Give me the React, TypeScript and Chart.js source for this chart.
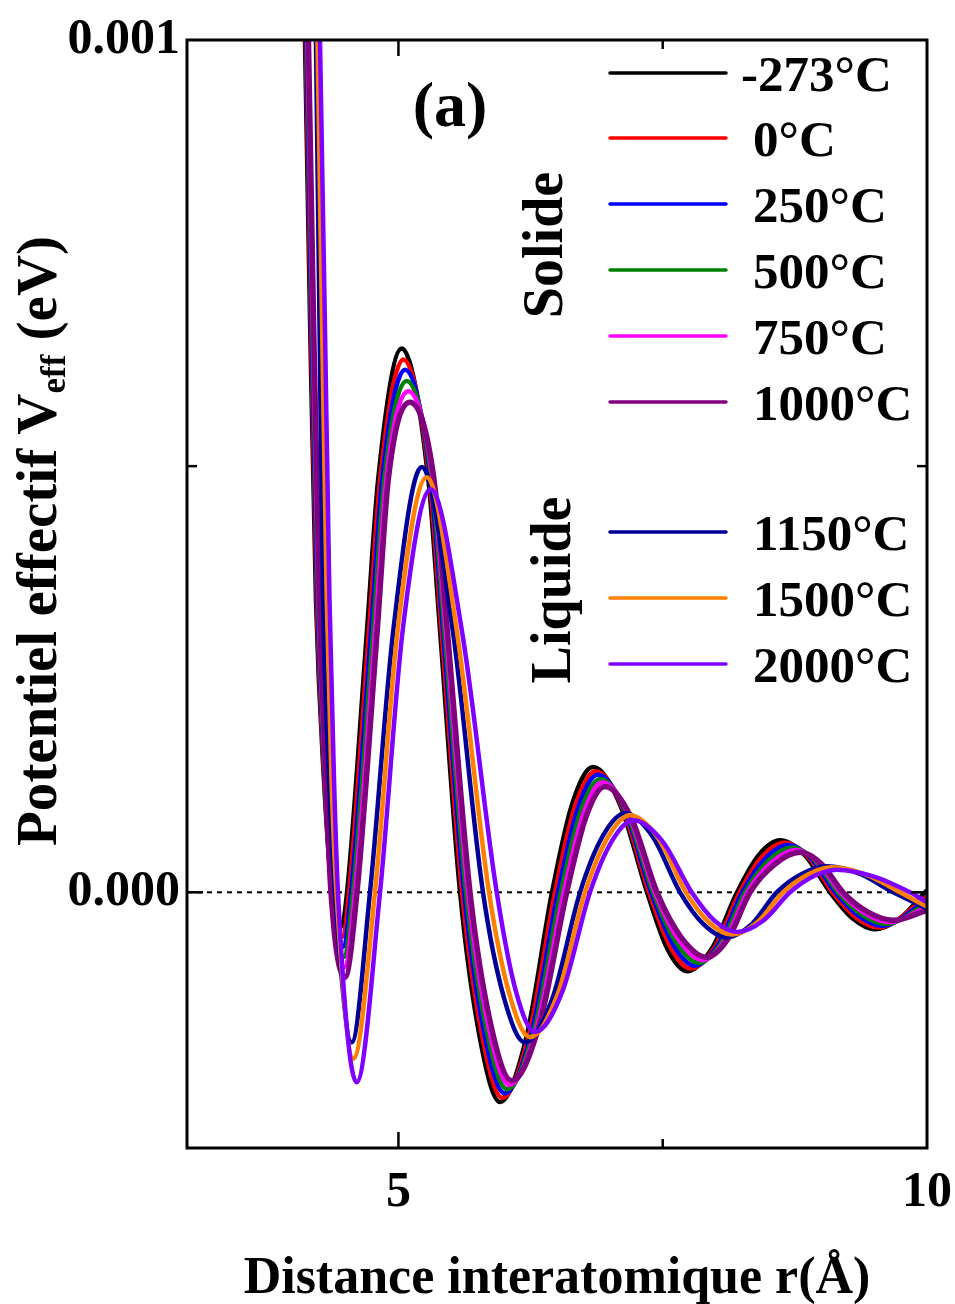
import React, { useEffect, useRef } from "react";
import { Chart, registerables } from "chart.js";

Chart.register(...registerables);

// Legend labels and colours
const temps = ["-273°C", "0°C", "250°C", "500°C", "750°C", "1000°C", "1150°C", "1500°C", "2000°C"];
const colors = ["#000000", "#ff0000", "#0000ff", "#008000", "#ff00ff", "#800080", "#000099", "#ff8000", "#8000ff"];
const xTicks = [5, 10];
const yTicks = [0, 0.001];

// r (Å) and Veff (eV)
const r_m273 = [4.083, 4.116, 4.164, 4.220, 4.296, 4.372, 4.462, 4.514, 4.703, 4.808, 5.031, 5.283, 5.393, 5.583, 5.772, 5.961, 6.207, 6.453, 6.642, 6.841, 7.096, 7.352, 7.541, 7.730, 7.966, 8.203, 8.406, 8.610, 8.846, 9.083, 9.295, 9.508, 9.745, 9.981, 10.0];
const v_m273 = [0.00120, 0.00100, 0.000671, 0.000343, 0.000131, 0, -0.0000399, 0, 0.000308, 0.000484, 0.000638, 0.000484, 0.000308, 0, -0.000172, -0.000246, -0.000172, 0, 0.000103, 0.000147, 0.000103, 0, -0.0000657, -0.0000927, -0.0000657, 0, 0.0000434, 0.0000610, 0.0000434, 0, -0.0000305, -0.0000434, -0.0000305, 0, 0.0000025];

const r_0 = [4.091, 4.123, 4.171, 4.227, 4.300, 4.370, 4.469, 4.533, 4.722, 4.827, 5.047, 5.294, 5.407, 5.602, 5.793, 5.983, 6.232, 6.481, 6.668, 6.864, 7.117, 7.371, 7.569, 7.767, 7.997, 8.228, 8.437, 8.648, 8.877, 9.108, 9.324, 9.542, 10.0];
const v_0 = [0.00120, 0.00100, 0.000671, 0.000343, 0.000131, 0, -0.0000519, 0, 0.000308, 0.000484, 0.000625, 0.000484, 0.000308, 0, -0.000169, -0.000241, -0.000169, 0, 0.000100, 0.000142, 0.000100, 0, -0.0000634, -0.0000894, -0.0000634, 0, 0.0000413, 0.0000582, 0.0000413, 0, -0.0000291, -0.0000413, -0.0000055];

const r_250 = [4.098, 4.129, 4.177, 4.233, 4.304, 4.368, 4.475, 4.552, 4.742, 4.846, 5.063, 5.305, 5.421, 5.621, 5.813, 6.005, 6.257, 6.509, 6.694, 6.886, 7.138, 7.390, 7.597, 7.804, 8.028, 8.252, 8.468, 8.686, 8.908, 9.132, 9.354, 9.576, 10.0];
const v_250 = [0.00120, 0.00100, 0.000671, 0.000343, 0.000131, 0, -0.0000639, 0, 0.000308, 0.000484, 0.000613, 0.000484, 0.000308, 0, -0.000166, -0.000236, -0.000166, 0, 0.000097, 0.000138, 0.000097, 0, -0.0000610, -0.0000861, -0.0000610, 0, 0.0000393, 0.0000554, 0.0000393, 0, -0.0000276, -0.0000392, -0.0000094];

const r_500 = [4.106, 4.136, 4.184, 4.240, 4.307, 4.366, 4.482, 4.570, 4.761, 4.866, 5.078, 5.315, 5.434, 5.639, 5.834, 6.028, 6.282, 6.536, 6.721, 6.909, 7.158, 7.408, 7.626, 7.842, 8.059, 8.277, 8.500, 8.723, 8.940, 9.157, 9.383, 9.611, 10.0];
const v_500 = [0.00120, 0.00100, 0.000671, 0.000343, 0.000131, 0, -0.0000758, 0, 0.000308, 0.000484, 0.000600, 0.000484, 0.000308, 0, -0.000162, -0.000231, -0.000162, 0, 0.000094, 0.000133, 0.000094, 0, -0.0000587, -0.0000829, -0.0000587, 0, 0.0000372, 0.0000525, 0.0000372, 0, -0.0000262, -0.0000371, -0.0000130];

const r_750 = [4.113, 4.142, 4.190, 4.246, 4.311, 4.364, 4.488, 4.589, 4.781, 4.885, 5.094, 5.326, 5.448, 5.658, 5.854, 6.050, 6.307, 6.564, 6.747, 6.931, 7.179, 7.427, 7.654, 7.879, 8.090, 8.301, 8.531, 8.761, 8.971, 9.181, 9.413, 9.645, 10.0];
const v_750 = [0.00120, 0.00100, 0.000671, 0.000343, 0.000131, 0, -0.0000878, 0, 0.000308, 0.000484, 0.000588, 0.000484, 0.000308, 0, -0.000159, -0.000226, -0.000159, 0, 0.000091, 0.000129, 0.000091, 0, -0.0000563, -0.0000796, -0.0000563, 0, 0.0000352, 0.0000497, 0.0000352, 0, -0.0000247, -0.0000350, -0.0000170];

const r_1000 = [4.121, 4.149, 4.197, 4.253, 4.315, 4.362, 4.495, 4.608, 4.800, 4.904, 5.110, 5.337, 5.462, 5.677, 5.875, 6.072, 6.332, 6.592, 6.773, 6.954, 7.200, 7.446, 7.682, 7.916, 8.121, 8.326, 8.562, 8.799, 9.002, 9.206, 9.442, 9.679, 10.0];
const v_1000 = [0.00120, 0.00100, 0.000671, 0.000343, 0.000131, 0, -0.0000998, 0, 0.000308, 0.000484, 0.000575, 0.000484, 0.000308, 0, -0.000156, -0.000221, -0.000156, 0, 0.0000880, 0.000124, 0.0000880, 0, -0.0000540, -0.0000763, -0.0000540, 0, 0.0000331, 0.0000469, 0.0000331, 0, -0.0000233, -0.0000329, -0.0000211];

const r_1150 = [4.200, 4.220, 4.253, 4.287, 4.343, 4.400, 4.558, 4.731, 4.952, 5.220, 5.513, 5.800, 5.999, 6.197, 6.458, 6.718, 6.931, 7.143, 7.404, 7.664, 7.885, 8.105, 8.342, 8.578, 8.815, 9.051, 9.366, 9.681, 10.0];
const v_1150 = [0.00120, 0.00100, 0.000671, 0.000343, 0.000131, 0, -0.000176, 0, 0.000308, 0.000499, 0.000308, 0, -0.000124, -0.000176, -0.000124, 0, 0.0000655, 0.0000927, 0.0000655, 0, -0.0000373, -0.0000528, -0.0000373, 0, 0.0000216, 0.0000305, 0.0000216, 0, -0.0000190];

const r_1500 = [4.208, 4.234, 4.277, 4.322, 4.367, 4.414, 4.575, 4.778, 4.993, 5.268, 5.551, 5.857, 6.051, 6.245, 6.505, 6.765, 6.978, 7.190, 7.456, 7.720, 7.937, 8.153, 8.396, 8.638, 8.869, 9.099, 9.422, 9.745, 10.0];
const v_1500 = [0.00120, 0.00100, 0.000671, 0.000343, 0.000131, 0, -0.000195, 0, 0.000308, 0.000487, 0.000308, 0, -0.000120, -0.000170, -0.000120, 0, 0.0000639, 0.0000904, 0.0000639, 0, -0.0000351, -0.0000496, -0.0000351, 0, 0.0000207, 0.0000293, 0.0000207, 0, -0.0000170];

const r_2000 = [4.231, 4.258, 4.304, 4.348, 4.391, 4.428, 4.605, 4.826, 5.041, 5.305, 5.599, 5.930, 6.111, 6.292, 6.552, 6.812, 7.018, 7.222, 7.498, 7.774, 7.987, 8.200, 8.453, 8.704, 8.926, 9.146, 9.493, 9.839, 10.0];
const v_2000 = [0.00120, 0.00100, 0.000671, 0.000343, 0.000131, 0, -0.000223, 0, 0.000308, 0.000473, 0.000308, 0, -0.000116, -0.000164, -0.000116, 0, 0.0000598, 0.0000845, 0.0000598, 0, -0.0000330, -0.0000466, -0.0000330, 0, 0.0000188, 0.0000266, 0.0000188, 0, -0.0000117];

const FONT = "'Liberation Serif', 'Times New Roman', serif";

const decor = {
  id: "decor",
  beforeDatasetsDraw(chart: any) {
    const { ctx, chartArea: a, scales } = chart;
    const y0 = scales.y.getPixelForValue(0);
    ctx.save();
    ctx.strokeStyle = "#000";
    ctx.lineWidth = 2;
    ctx.setLineDash([5, 5]);
    ctx.beginPath();
    ctx.moveTo(a.left, y0);
    ctx.lineTo(a.right, y0);
    ctx.stroke();
    ctx.restore();
  },
  afterDatasetsDraw(chart: any) {
    const { ctx, chartArea: a, scales } = chart;
    const xs = scales.x;
    const ys = scales.y;
    ctx.save();
    ctx.strokeStyle = "#000";
    ctx.lineWidth = 3;
    ctx.setLineDash([]);
    ctx.strokeRect(a.left, a.top, a.right - a.left, a.bottom - a.top);
    ctx.lineWidth = 2.5;
    const tick = (x1: number, y1: number, x2: number, y2: number) => {
      ctx.beginPath();
      ctx.moveTo(x1, y1);
      ctx.lineTo(x2, y2);
      ctx.stroke();
    };
    // x ticks (inside, bottom and top)
    [[5, 16], [7.5, 9]].forEach(([v, len]) => {
      const px = xs.getPixelForValue(v);
      tick(px, a.bottom, px, a.bottom - len);
      tick(px, a.top, px, a.top + len);
    });
    // y ticks (inside, left and right)
    [[0, 16], [0.0005, 10]].forEach(([v, len]) => {
      const py = ys.getPixelForValue(v);
      tick(a.left, py, a.left + len, py);
      tick(a.right, py, a.right - len, py);
    });

    ctx.fillStyle = "#000";
    // x title
    ctx.font = `bold 52px ${FONT}`;
    ctx.textAlign = "center";
    ctx.textBaseline = "alphabetic";
    ctx.fillText("Distance interatomique r(Å)", 557, 1293);

    // y title with subscript
    const big = `bold 57px ${FONT}`;
    const small = `bold 35px ${FONT}`;
    ctx.font = big;
    const t1 = "Potentiel effectif V";
    const t2 = " (eV)";
    const w1 = ctx.measureText(t1).width;
    const w2 = ctx.measureText(t2).width;
    ctx.font = small;
    const ws = ctx.measureText("eff").width;
    const total = w1 + ws + w2;
    ctx.save();
    ctx.translate(56, 541);
    ctx.rotate(-Math.PI / 2);
    ctx.textAlign = "left";
    ctx.font = big;
    ctx.fillText(t1, -total / 2, 0);
    ctx.font = small;
    ctx.fillText("eff", -total / 2 + w1, 9);
    ctx.font = big;
    ctx.fillText(t2, -total / 2 + w1 + ws, 0);
    ctx.restore();

    // panel label
    ctx.font = `bold 64px ${FONT}`;
    ctx.textAlign = "center";
    ctx.fillText("(a)", 450, 126);

    // phase labels
    ctx.font = `bold 56px ${FONT}`;
    ctx.save();
    ctx.translate(562, 245);
    ctx.rotate(-Math.PI / 2);
    ctx.fillText("Solide", 0, 0);
    ctx.restore();
    ctx.save();
    ctx.translate(570, 590);
    ctx.rotate(-Math.PI / 2);
    ctx.fillText("Liquide", 0, 0);
    ctx.restore();

    // legend
    const rows = [73, 138, 204, 270, 336, 402, 532, 598, 664];
    ctx.font = `bold 51px ${FONT}`;
    ctx.textAlign = "left";
    rows.forEach((ry, i) => {
      ctx.strokeStyle = colors[i];
      ctx.lineWidth = 3.5;
      ctx.lineCap = "round";
      tick(610, ry, 726, ry);
      ctx.fillStyle = "#000";
      ctx.fillText(temps[i], i === 0 ? 741 : 753, ry + 18);
    });
    ctx.restore();
  },
};

export default function App() {
  const ref = useRef<HTMLCanvasElement>(null);
  useEffect(() => {
    const series: number[][][] = [
      [r_m273, v_m273],
      [r_0, v_0],
      [r_250, v_250],
      [r_500, v_500],
      [r_750, v_750],
      [r_1000, v_1000],
      [r_1150, v_1150],
      [r_1500, v_1500],
      [r_2000, v_2000],
    ];
    const tickFont = { family: FONT, size: 50, weight: "bold" as const };
    const chart = new Chart(ref.current as HTMLCanvasElement, {
      type: "line",
      data: {
        datasets: series.map(([r, v], i) => ({
          label: temps[i],
          data: r.map((x, j) => ({ x, y: v[j] })),
          borderColor: colors[i],
          backgroundColor: colors[i],
          borderWidth: i === 5 ? 5.5 : 4.5,
          pointRadius: 0,
          fill: false,
          cubicInterpolationMode: "monotone" as const,
          order: 8 - i,
        })),
      },
      options: {
        responsive: false,
        animation: false,
        devicePixelRatio: 1,
        layout: { padding: { top: 40, right: 28, left: 0, bottom: 0 } },
        plugins: { legend: { display: false }, tooltip: { enabled: false } },
        scales: {
          x: {
            type: "linear",
            min: 3,
            max: 10,
            afterBuildTicks: (s: any) => {
              s.ticks = xTicks.map((value) => ({ value }));
            },
            afterFit: (s: any) => {
              s.height = 156;
              s.paddingLeft = 0;
              s.paddingRight = 0;
            },
            grid: { display: false, drawTicks: false },
            border: { display: false },
            ticks: {
              font: tickFont,
              color: "#000",
              padding: 15,
              maxRotation: 0,
              autoSkip: false,
              callback: (v: any) => String(v),
            },
          },
          y: {
            type: "linear",
            min: -0.0003,
            max: 0.001,
            afterBuildTicks: (s: any) => {
              s.ticks = yTicks.map((value) => ({ value }));
            },
            afterFit: (s: any) => {
              s.width = 187;
              s.paddingTop = 0;
              s.paddingBottom = 0;
            },
            grid: { display: false, drawTicks: false },
            border: { display: false },
            ticks: {
              font: tickFont,
              color: "#000",
              padding: 7,
              autoSkip: false,
              callback: (v: any) => Number(v).toFixed(3),
            },
          },
        },
      },
      plugins: [decor],
    });
    return () => chart.destroy();
  }, []);
  return (
    <canvas
      ref={ref}
      width={955}
      height={1304}
      style={{ position: "absolute", left: 0, top: 0, display: "block" }}
    />
  );
}
